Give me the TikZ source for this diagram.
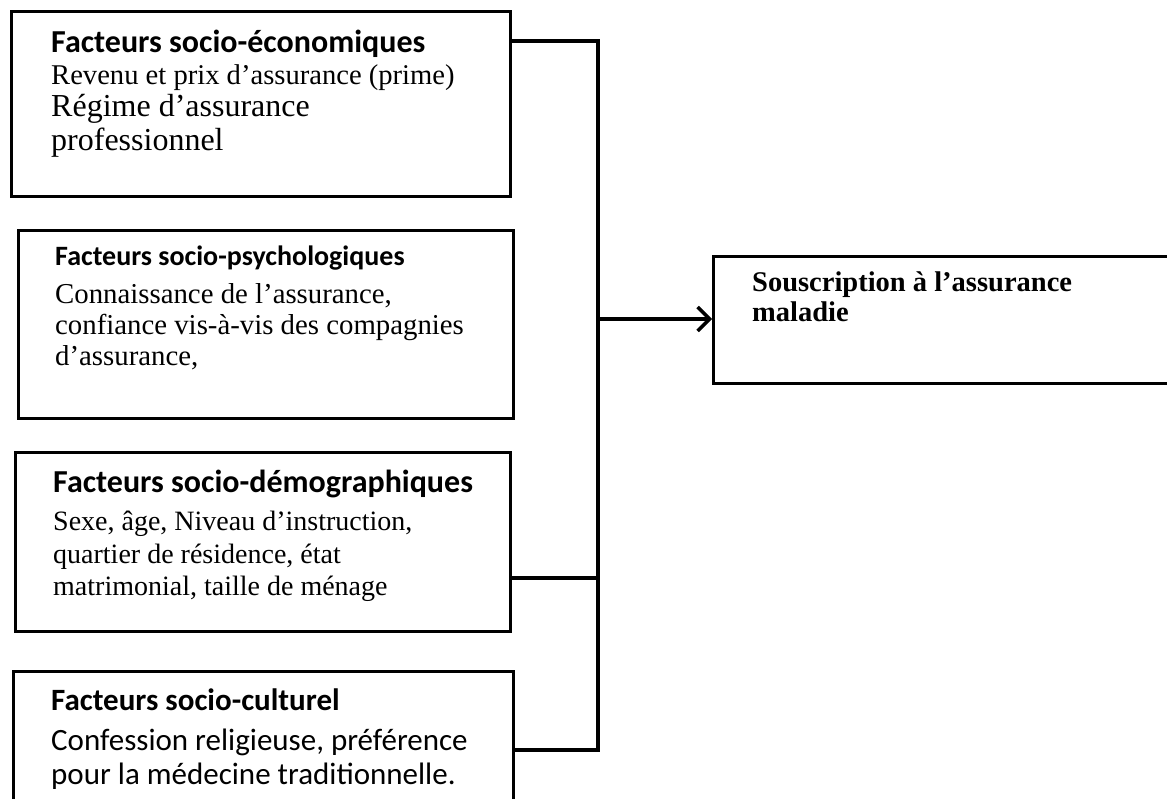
\documentclass[tikz,border=0pt]{standalone}
\usepackage{fontspec}
\setmainfont{Liberation Serif}
\newfontfamily\calibri{Carlito}
\usetikzlibrary{positioning, arrows.meta, calc}

\begin{document}
\begin{tikzpicture}[
        x=1pt, y=-1pt,
        box/.style={draw, line width=3.4pt, anchor=north west, inner sep=0pt},
        txt/.style={anchor=base west, inner sep=0pt},
        link/.style={line width=3.4pt, line join=miter}
    ]
        \useasboundingbox (0,0) rectangle (1167,798);
        \clip (0,0) rectangle (1167,798);

        % Factor boxes
        \node[box, minimum width=499, minimum height=185] (eco) at (10,10) {};
        \node[box, minimum width=495, minimum height=188] (psy) at (17,229) {};
        \node[box, minimum width=495, minimum height=179] (demo) at (14,451) {};
        \node[box, minimum width=500, minimum height=170] (cult) at (12,670) {};
        \node[box, minimum width=480, minimum height=127] (sous) at (712,255) {};

        % Socio-economic
        \node[txt, font=\calibri\bfseries\fontsize{32}{36}\selectfont] (ecoH) at (51,52) {Facteurs socio-économiques};
        \node[txt, font=\fontsize{28.6}{32}\selectfont] (eco1) at (51,84) {Revenu et prix d’assurance (prime)};
        \node[txt, font=\fontsize{32}{36}\selectfont] (eco2) at (51,116) {Régime d’assurance};
        \node[txt, font=\fontsize{32}{36}\selectfont] (eco3) at (51,150) {professionnel};

        % Socio-psychological
        \node[txt, font=\calibri\bfseries\fontsize{28}{32}\selectfont] (psyH) at (55,265) {Facteurs socio-psychologiques};
        \node[txt, font=\fontsize{28.8}{32}\selectfont] (psy1) at (55,303) {Connaissance de l’assurance,};
        \node[txt, font=\fontsize{28.8}{32}\selectfont] (psy2) at (55,334) {confiance vis-à-vis des compagnies};
        \node[txt, font=\fontsize{28.8}{32}\selectfont] (psy3) at (55,365) {d’assurance,};

        % Socio-demographic
        \node[txt, font=\calibri\bfseries\fontsize{32}{36}\selectfont] (demoH) at (53,492) {Facteurs socio-démographiques};
        \node[txt, font=\fontsize{28}{32}\selectfont] (demo1) at (53,530) {Sexe, âge, Niveau d’instruction,};
        \node[txt, font=\fontsize{28}{32}\selectfont] (demo2) at (53,563) {quartier de résidence, état};
        \node[txt, font=\fontsize{28}{32}\selectfont] (demo3) at (53,595) {matrimonial, taille de ménage};

        % Socio-cultural
        \node[txt, font=\calibri\bfseries\fontsize{31}{36}\selectfont] (cultH) at (51,710) {Facteurs socio-culturel};
        \node[txt, font=\calibri\fontsize{31}{36}\selectfont] (cult1) at (51,750) {Confession religieuse, préférence};
        \node[txt, font=\calibri\fontsize{31}{36}\selectfont] (cult2) at (51,784) {pour la médecine traditionnelle.};

        % Outcome
        \node[txt, font=\bfseries\fontsize{28.5}{32}\selectfont] (sous1) at (752,291) {Souscription à l’assurance};
        \node[txt, font=\bfseries\fontsize{28.5}{32}\selectfont] (sous2) at (752,321) {maladie};

        % Connectors
        \coordinate (bus top) at (598,41);
        \coordinate (bus mid) at (598,578);
        \coordinate (bus bot) at (598,750);
        \coordinate (bus out) at (598,319);
        \draw[link] (eco.east |- bus top) -- (bus top) -- (bus bot) -- (cult.east |- bus bot);
        \draw[link] (demo.east |- bus mid) -- (bus mid);
        \draw[link, -{Straight Barb[length=12pt, width=24pt]}] (bus out) -- (sous.west |- bus out);

    \end{tikzpicture}
\end{document}
